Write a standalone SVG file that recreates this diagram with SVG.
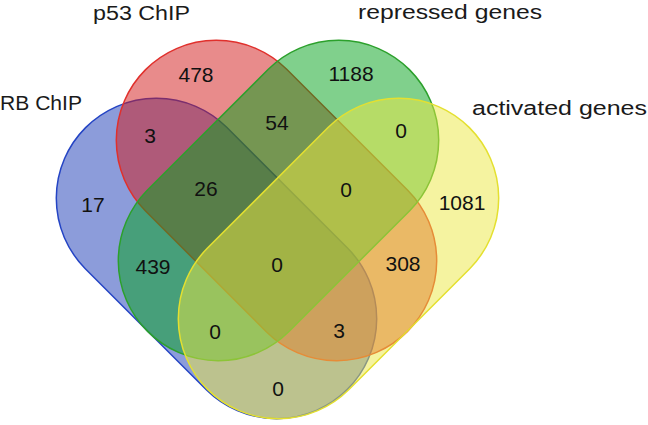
<svg xmlns="http://www.w3.org/2000/svg" width="648" height="425" viewBox="0 0 648 425">
<style>
.set{stroke-width:1.5}
.lbl{font-family:"Liberation Sans",Arial,sans-serif;font-size:20px;fill:#1a1a1a}
.num{font-family:"Liberation Sans",Arial,sans-serif;font-size:21px;fill:#111;text-anchor:middle}
</style>
<rect width="648" height="425" fill="#fff"/>
<g id="sets">
<g id="rb">
<path class="set" d="M226.71 127.29 L347.71 248.29 A100 100 0 0 1 206.29 389.71 L85.29 268.71 A100 100 0 0 1 226.71 127.29 Z" fill="rgb(25,57,181)" fill-opacity="0.5" stroke="#2444c4"/>
</g>
<g id="p53">
<path class="set" d="M286.71 69.29 L407.71 190.29 A100 100 0 0 1 266.29 331.71 L145.29 210.71 A100 100 0 0 1 286.71 69.29 Z" fill="rgb(209,23,23)" fill-opacity="0.5" stroke="#e0302c"/>
</g>
<g id="repressed">
<path class="set" d="M268.29 69.29 L147.29 190.29 A100 100 0 0 0 288.71 331.71 L409.71 210.71 A100 100 0 0 0 268.29 69.29 Z" fill="rgb(1,161,25)" fill-opacity="0.5" stroke="#2ca02c"/>
</g>
<g id="activated">
<path class="set" d="M328.29 127.29 L207.29 248.29 A100 100 0 0 0 348.71 389.71 L469.71 268.71 A100 100 0 0 0 328.29 127.29 Z" fill="rgb(235,231,65)" fill-opacity="0.5" stroke="#e4e030"/>
</g>
</g>
<g id="labels">
<text class="lbl" x="93" y="20" textLength="97" lengthAdjust="spacingAndGlyphs">p53 ChIP</text>
<text class="lbl" x="0" y="110" textLength="82" lengthAdjust="spacingAndGlyphs">RB ChIP</text>
<text class="lbl" x="358" y="19" textLength="184" lengthAdjust="spacingAndGlyphs">repressed genes</text>
<text class="lbl" x="472" y="115" textLength="175" lengthAdjust="spacingAndGlyphs">activated genes</text>
</g>
<g id="counts">
<text class="num" x="196" y="82">478</text>
<text class="num" x="351" y="81">1188</text>
<text class="num" x="150" y="143">3</text>
<text class="num" x="277" y="130">54</text>
<text class="num" x="401" y="138">0</text>
<text class="num" x="206" y="196">26</text>
<text class="num" x="346" y="197">0</text>
<text class="num" x="93" y="212">17</text>
<text class="num" x="462" y="210">1081</text>
<text class="num" x="153" y="274">439</text>
<text class="num" x="277" y="272">0</text>
<text class="num" x="403" y="271">308</text>
<text class="num" x="215" y="339">0</text>
<text class="num" x="339" y="338">3</text>
<text class="num" x="278" y="396">0</text>
</g>
</svg>
